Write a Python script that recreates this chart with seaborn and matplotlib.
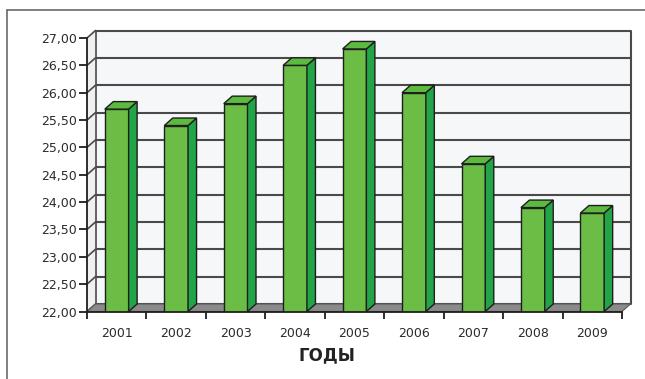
import matplotlib
matplotlib.use('Agg')
import matplotlib.pyplot as plt
import seaborn as sns
import pandas as pd
from matplotlib.patches import Polygon
from matplotlib.lines import Line2D
from matplotlib.ticker import FuncFormatter

# Data
years = ['2001', '2002', '2003', '2004', '2005', '2006', '2007', '2008', '2009']
values = [25.7, 25.4, 25.8, 26.5, 26.8, 26.0, 24.7, 23.9, 23.8]
y_ticks = [22.0, 22.5, 23.0, 23.5, 24.0, 24.5, 25.0, 25.5, 26.0, 26.5, 27.0]
x_title = 'ГОДЫ'

df = pd.DataFrame({'year': years, 'value': values})

sns.set_style('white')
plt.rcParams['font.family'] = ['DejaVu Sans']

W, H = 645, 379
fig = plt.figure(figsize=(W / 100, H / 100), dpi=100)
left_px, right_px, top_px, bottom_px = 87, 622, 38, 311.5
ax = fig.add_axes([left_px / W, 1 - bottom_px / H,
                   (right_px - left_px) / W, (bottom_px - top_px) / H])

n = len(years)
ymin, ymax = 22.0, 27.0
# 3D depth offset (pixels) converted to data units
depth_px_x, depth_px_y = 8.5, 7.5
dx = depth_px_x / ((right_px - left_px) / n)
dy = depth_px_y / ((bottom_px - top_px) / (ymax - ymin))

grid_col = '#4a4a4a'
# back wall
ax.add_patch(Polygon([(-0.5 + dx, ymin + dy), (n - 0.5 + dx, ymin + dy),
                      (n - 0.5 + dx, ymax + dy), (-0.5 + dx, ymax + dy)],
                     closed=True, facecolor='#f6f7f9', edgecolor='none',
                     zorder=0, clip_on=False))
# left wall
ax.add_patch(Polygon([(-0.5, ymin), (-0.5 + dx, ymin + dy),
                      (-0.5 + dx, ymax + dy), (-0.5, ymax)],
                     closed=True, facecolor='#eef0f2', edgecolor='none',
                     zorder=0, clip_on=False))
for v in y_ticks:
    ax.plot([-0.5 + dx, n - 0.5 + dx], [v + dy, v + dy], color=grid_col,
            lw=1.5, zorder=1, clip_on=False, solid_capstyle='butt')
    ax.plot([-0.5, -0.5 + dx], [v, v + dy], color=grid_col,
            lw=1.2, zorder=1, clip_on=False)
ax.plot([-0.5 + dx, -0.5 + dx], [ymin + dy, ymax + dy], color=grid_col,
        lw=1.2, zorder=1, clip_on=False)
ax.plot([n - 0.5 + dx, n - 0.5 + dx], [ymin + dy, ymax + dy], color=grid_col,
        lw=1.5, zorder=1, clip_on=False)

# floor
ax.add_patch(Polygon([(-0.5, ymin), (n - 0.5, ymin),
                      (n - 0.5 + dx, ymin + dy), (-0.5 + dx, ymin + dy)],
                     closed=True, facecolor='#8a8a8a', edgecolor='#5a5a5a',
                     lw=0.8, zorder=1.5, clip_on=False))

# bars (front faces)
sns.barplot(data=df, x='year', y='value', color='#6cbd45', width=0.4,
            edgecolor='#1e1e1e', linewidth=1.0, saturation=1, ax=ax,
            zorder=3, bottom=0)

for p in ax.patches:
    if not hasattr(p, 'get_x') or p.get_width() > 1:
        continue
    x0, w, top = p.get_x(), p.get_width(), p.get_y() + p.get_height()
    ax.add_patch(Polygon([(x0 + w, ymin), (x0 + w + dx, ymin + dy),
                          (x0 + w + dx, top + dy), (x0 + w, top)],
                         closed=True, facecolor='#22a546', edgecolor='#1e1e1e',
                         lw=1.0, zorder=3, clip_on=False))
    ax.add_patch(Polygon([(x0, top), (x0 + w, top),
                          (x0 + w + dx, top + dy), (x0 + dx, top + dy)],
                         closed=True, facecolor='#5cbb3f', edgecolor='#1e1e1e',
                         lw=1.0, zorder=3, clip_on=False))

ax.set_xlim(-0.5, n - 0.5)
ax.set_ylim(ymin, ymax)
ax.set_yticks(y_ticks)
ax.yaxis.set_major_formatter(FuncFormatter(lambda v, _: f'{v:.2f}'.replace('.', ',')))
ax.set_xticks(range(n))
ax.set_xticklabels(years)
ax.set_xticks([i - 0.5 for i in range(n + 1)], minor=True)
ax.tick_params(axis='x', which='major', length=0, pad=11, labelsize=9,
               labelcolor='#2b2b2b')
ax.tick_params(axis='x', which='minor', length=5, width=1.3, color='#1e1e1e',
               direction='out', bottom=True)
ax.tick_params(axis='y', length=6, width=1.3, color='#1e1e1e', pad=1,
               labelsize=9, labelcolor='#2b2b2b', left=True, direction='out')
ax.set_xlabel('')
ax.set_ylabel('')
ax.set_facecolor('none')
for s in ['top', 'right']:
    ax.spines[s].set_visible(False)
for s in ['left', 'bottom']:
    ax.spines[s].set_color('#1e1e1e')
    ax.spines[s].set_linewidth(1.3)
    ax.spines[s].set_zorder(4)

fig.text(327 / W, 1 - 355 / H, x_title, ha='center', va='center',
         fontsize=12, fontweight='bold', color='#222222')

# outer frame of the chart area
fig.add_artist(Line2D([7 / W, 1], [1 - 10 / H, 1 - 10 / H], color='#6a6a6a', lw=1.2))
fig.add_artist(Line2D([7 / W, 7 / W], [0, 1 - 10 / H], color='#6a6a6a', lw=1.2))

fig.savefig('out.png', dpi=100)
